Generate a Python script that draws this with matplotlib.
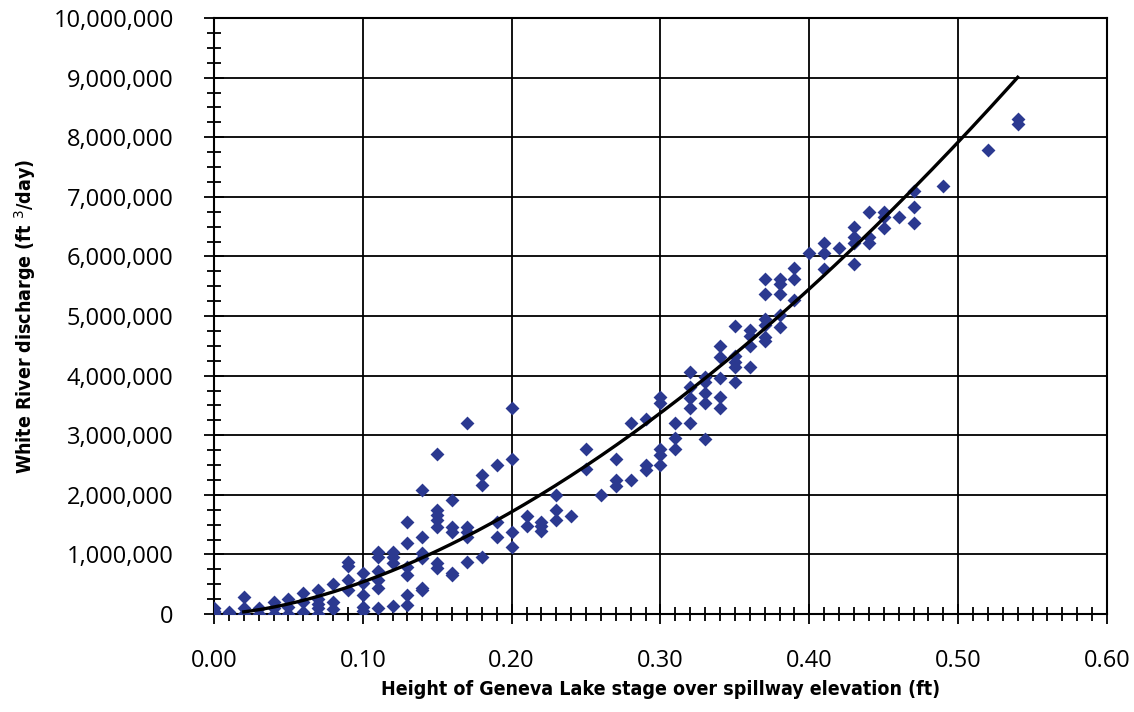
import matplotlib.pyplot as plt
import numpy as np
from matplotlib.ticker import MultipleLocator, FuncFormatter

# observed stage heights (ft) and discharge (million ft3/day)
stage = [
    0.00, 0.00, 0.00, 0.00,
    0.01, 0.01,
    0.02, 0.02, 0.02,
    0.03, 0.03,
    0.04, 0.04, 0.04,
    0.05, 0.05, 0.05,
    0.06, 0.06, 0.06,
    0.07, 0.07, 0.07, 0.07, 0.07,
    0.08, 0.08, 0.08,
    0.09, 0.09, 0.09, 0.09,
    0.10, 0.10, 0.10, 0.10, 0.10,
    0.11, 0.11, 0.11, 0.11, 0.11, 0.11,
    0.12, 0.12, 0.12, 0.12,
    0.13, 0.13, 0.13, 0.13, 0.13, 0.13,
    0.14, 0.14, 0.14, 0.14, 0.14, 0.14,
    0.15, 0.15, 0.15, 0.15, 0.15, 0.15, 0.15,
    0.16, 0.16, 0.16, 0.16, 0.16,
    0.17, 0.17, 0.17, 0.17, 0.17,
    0.18, 0.18, 0.18,
    0.19, 0.19, 0.19,
    0.20, 0.20, 0.20, 0.20,
    0.21, 0.21,
    0.22, 0.22, 0.22,
    0.23, 0.23, 0.23,
    0.24,
    0.25, 0.25,
    0.26,
    0.27, 0.27, 0.27,
    0.28, 0.28,
    0.29, 0.29, 0.29,
    0.30, 0.30, 0.30, 0.30, 0.30,
    0.31, 0.31, 0.31,
    0.32, 0.32, 0.32, 0.32, 0.32,
    0.33, 0.33, 0.33, 0.33, 0.33,
    0.34, 0.34, 0.34, 0.34, 0.34,
    0.35, 0.35, 0.35, 0.35, 0.35,
    0.36, 0.36, 0.36, 0.36,
    0.37, 0.37, 0.37, 0.37, 0.37, 0.37,
    0.38, 0.38, 0.38, 0.38, 0.38,
    0.39, 0.39, 0.39,
    0.40,
    0.41, 0.41, 0.41,
    0.42,
    0.43, 0.43, 0.43, 0.43,
    0.44, 0.44, 0.44,
    0.45, 0.45, 0.45,
    0.46,
    0.47, 0.47, 0.47,
    0.49,
    0.52,
    0.54, 0.54,
]
discharge_m = [
    0.00, 0.05, 0.10, 0.03,
    0.04, 0.00,
    0.29, 0.10, 0.00,
    0.10, 0.00,
    0.21, 0.10, 0.00,
    0.26, 0.12, 0.00,
    0.35, 0.20, 0.03,
    0.41, 0.26, 0.17, 0.10, 0.00,
    0.50, 0.20, 0.08,
    0.88, 0.81, 0.57, 0.40,
    0.69, 0.52, 0.32, 0.12, 0.05,
    1.04, 0.96, 0.72, 0.57, 0.44, 0.10,
    1.04, 0.96, 0.85, 0.13,
    1.55, 1.20, 0.79, 0.66, 0.32, 0.15,
    2.08, 1.30, 1.03, 0.94, 0.44, 0.40,
    2.68, 1.74, 1.66, 1.58, 1.46, 0.85, 0.77,
    1.91, 1.46, 1.38, 0.69, 0.65,
    3.20, 1.46, 1.38, 1.30, 0.87,
    2.33, 2.16, 0.96,
    2.50, 1.55, 1.30,
    3.45, 2.60, 1.38, 1.13,
    1.64, 1.48,
    1.55, 1.48, 1.40,
    2.00, 1.74, 1.57,
    1.65,
    2.77, 2.43,
    2.00,
    2.60, 2.25, 2.15,
    3.20, 2.25,
    3.28, 2.50, 2.42,
    3.64, 3.54, 2.77, 2.67, 2.50,
    3.20, 2.95, 2.77,
    4.06, 3.81, 3.62, 3.46, 3.20,
    3.98, 3.90, 3.71, 3.54, 2.94,
    4.50, 4.32, 3.96, 3.64, 3.45,
    4.83, 4.33, 4.23, 4.15, 3.89,
    4.76, 4.66, 4.50, 4.15,
    5.62, 5.37, 4.95, 4.85, 4.65, 4.58,
    5.62, 5.54, 5.37, 5.02, 4.82,
    5.80, 5.62, 5.27,
    6.05,
    6.22, 6.05, 5.79,
    6.14,
    6.50, 6.32, 6.22, 5.88,
    6.75, 6.33, 6.22,
    6.75, 6.66, 6.48,
    6.66,
    7.10, 6.83, 6.56,
    7.18,
    7.78,
    8.30, 8.22,
]

# fitted rating curve: Q = a * h^b
fit_a = 25.2e6
fit_b = 1.67
fit_start, fit_end = 0.02, 0.54

fig = plt.figure(figsize=(11.34, 7.12), dpi=100)
ax = fig.add_axes([0.1887, 0.1376, 0.7875, 0.8371])

ax.scatter(stage, np.array(discharge_m) * 1e6, marker="D", s=50,
           color="#2b3990", linewidths=0, zorder=3)

h = np.linspace(fit_start, fit_end, 200)
ax.plot(h, fit_a * h ** fit_b, color="black", lw=2.4, zorder=4)

ax.set_xlim(0, 0.6)
ax.set_ylim(0, 10e6)
ax.xaxis.set_major_locator(MultipleLocator(0.1))
ax.xaxis.set_minor_locator(MultipleLocator(0.01))
ax.yaxis.set_major_locator(MultipleLocator(1e6))
ax.yaxis.set_minor_locator(MultipleLocator(250000))
ax.xaxis.set_major_formatter(FuncFormatter(lambda v, p: f"{v:.2f}"))
ax.yaxis.set_major_formatter(FuncFormatter(lambda v, p: f"{v:,.0f}"))

ax.grid(which="major", color="black", lw=1.3)
ax.set_axisbelow(True)
for s in ax.spines.values():
    s.set_linewidth(1.5)
ax.tick_params(which="both", direction="inout", color="black", width=1.3)
ax.tick_params(which="major", length=14, labelsize=17)
ax.tick_params(axis="y", which="major", pad=22)
ax.tick_params(axis="x", which="major", pad=18)
ax.tick_params(which="minor", length=10)
for lbl in ax.get_xticklabels() + ax.get_yticklabels():
    lbl.set_family(["Open Sans", "DejaVu Sans"])

lab_font = dict(family="DejaVu Sans", stretch="condensed", weight="bold", size=14)
ax.set_xlabel("Height of Geneva Lake stage over spillway elevation (ft)", labelpad=5, **lab_font)
ax.set_ylabel("White River discharge (ft $^{3}$/day)", labelpad=11, **lab_font)

fig.savefig("out.png", dpi=100)
